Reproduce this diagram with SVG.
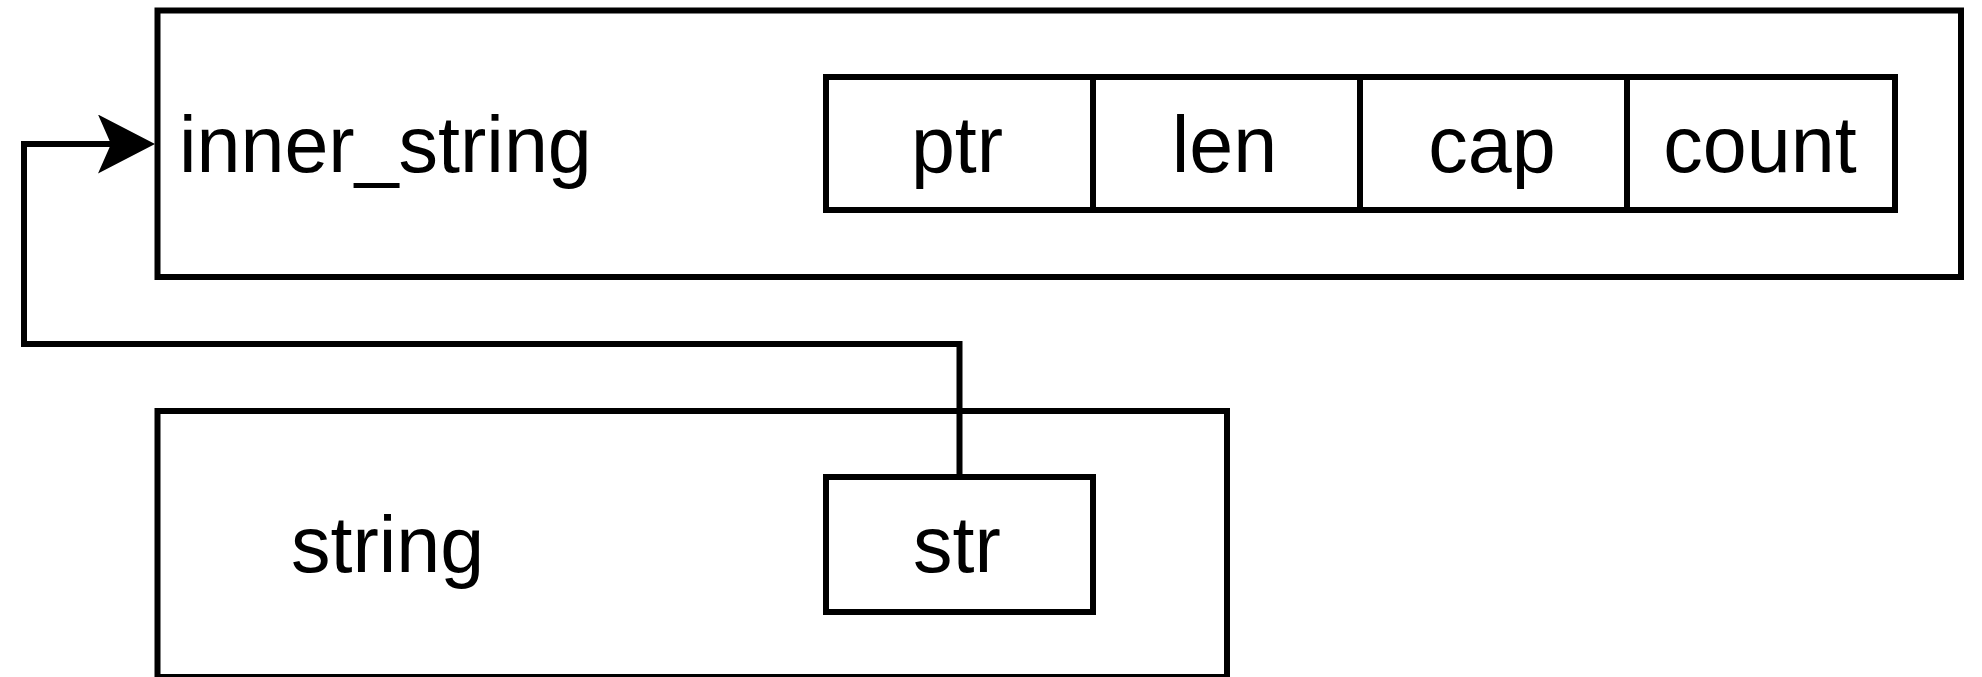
<svg xmlns="http://www.w3.org/2000/svg" width="1982" height="677" viewBox="0 0 1982 677">
  <style>
    .box { fill: none; stroke: #000; stroke-width: 6; }
    .cell { fill: #fff; stroke: #000; stroke-width: 6; }
    .lbl { font-family: "Liberation Sans", Arial, Helvetica, sans-serif; font-size: 79px; fill: #000; }
    .mid { text-anchor: middle; }
    .conn { fill: none; stroke: #000; stroke-width: 6; }
  </style>
  <defs>
    <marker id="arrow" markerUnits="userSpaceOnUse" viewBox="0 0 57 59" markerWidth="57" markerHeight="59" refX="13" refY="29.5" orient="auto">
      <path d="M0,0 L57,29.5 L0,59 L13,29.5 Z" fill="#000"/>
    </marker>
  </defs>
  <rect width="1982" height="677" fill="#fff"/>

  <g id="inner_string">
    <rect class="box" x="157.5" y="10.5" width="1803.5" height="266.5"/>
    <text class="lbl" x="179" y="172">inner_string</text>
  </g>
  <g id="ptr">
    <rect class="cell" x="826" y="77" width="267" height="133"/>
    <text class="lbl mid" x="957" y="172">ptr</text>
  </g>
  <g id="len">
    <rect class="cell" x="1093" y="77" width="267" height="133"/>
    <text class="lbl mid" x="1224.5" y="172">len</text>
  </g>
  <g id="cap">
    <rect class="cell" x="1360" y="77" width="267" height="133"/>
    <text class="lbl mid" x="1492" y="172">cap</text>
  </g>
  <g id="count">
    <rect class="cell" x="1627" y="77" width="268" height="133"/>
    <text class="lbl mid" x="1760" y="172">count</text>
  </g>

  <g id="string">
    <rect class="box" x="157.5" y="411" width="1069.5" height="266"/>
    <text class="lbl" x="291" y="572">string</text>
  </g>
  <g id="str">
    <rect class="cell" x="826" y="477" width="267" height="135"/>
    <text class="lbl mid" x="957" y="572">str</text>
  </g>

  <g id="connectors">
    <path class="conn" d="M959.5,477 V344 H24 V144 H111" marker-end="url(#arrow)"/>
  </g>
</svg>
